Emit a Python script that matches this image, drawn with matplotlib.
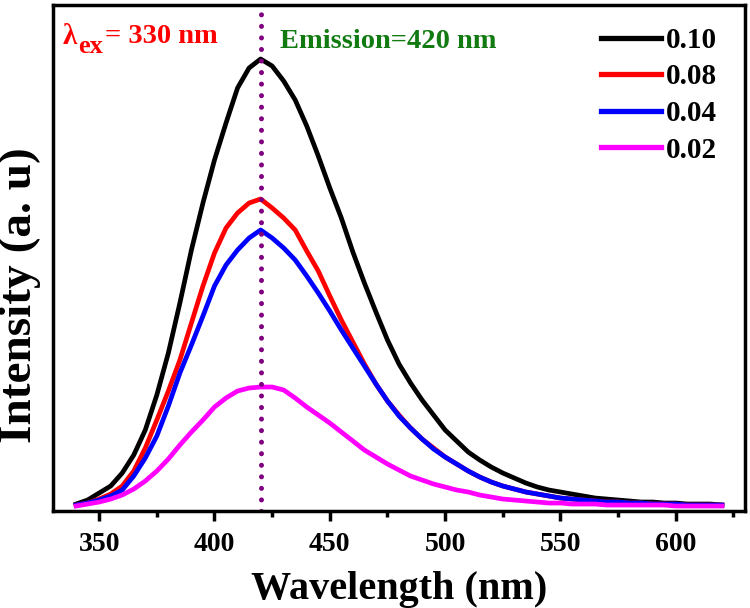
import numpy as np
import matplotlib.pyplot as plt
from matplotlib.ticker import MultipleLocator

plt.rcParams['font.family'] = ['Liberation Serif', 'DejaVu Serif']
plt.rcParams['font.weight'] = 'bold'

# wavelength grid (nm), 5 nm steps
wavelength = np.arange(340, 621, 5)

# emission intensities (arbitrary units)
i_010 = [4, 8, 15, 22, 35, 53, 78, 113, 155, 205, 258, 305, 348, 385, 420, 440, 449,
         442, 427, 408, 382, 352, 320, 290, 256, 225, 196, 168, 144, 125, 108, 93, 78,
         67, 56, 48, 41, 35, 30, 25, 21, 18, 16, 14, 12, 10, 9, 8, 7, 6, 6, 5, 5, 4, 4, 4, 3]
i_008 = [3, 5, 9, 14, 22, 37, 60, 88, 117, 148, 185, 222, 255, 280, 295, 305, 309,
         300, 290, 278, 257, 237, 212, 188, 166, 144, 124, 107, 93, 80, 69, 60, 51,
         44, 37, 31, 26, 22, 19, 16, 14, 12, 10, 9, 8, 7, 6, 6, 5, 5, 4, 4, 4, 3, 3, 3, 3]
i_004 = [3, 5, 8, 12, 18, 32, 50, 72, 102, 135, 163, 192, 222, 243, 258, 270, 278,
         270, 260, 248, 232, 215, 197, 178, 160, 142, 124, 107, 92, 80, 69, 59, 51,
         44, 37, 31, 26, 22, 19, 16, 14, 12, 10, 9, 8, 7, 6, 6, 5, 5, 4, 4, 4, 3, 3, 3, 3]
i_002 = [2, 4, 6, 9, 13, 19, 27, 37, 49, 63, 76, 88, 101, 110, 117, 120, 121,
         121, 118, 110, 101, 93, 85, 76, 67, 58, 51, 44, 38, 32, 28, 24, 21,
         18, 16, 13, 11, 9, 8, 7, 6, 5, 5, 4, 4, 4, 3, 3, 3, 3, 3, 3, 2, 2, 2, 2, 2]

labels = ['0.10', '0.08', '0.04', '0.02']
colors = ['black', 'red', 'blue', 'magenta']
series = [i_010, i_008, i_004, i_002]

fig = plt.figure(figsize=(7.5, 6.08), dpi=100)
ax = fig.add_axes([0.0707, 0.1595, 0.9226, 0.8323])

for y, lab, c in zip(series, labels, colors):
    ax.plot(wavelength, y, color=c, lw=3.4, label=lab)

ax.axvline(420, color='#7f007f', lw=3.6, linestyle=(0, (0.01, 2.3)),
           dash_capstyle='round')

ax.set_xlim(330, 630)
ax.set_ylim(-3, 503)
ax.xaxis.set_major_locator(MultipleLocator(50))
ax.xaxis.set_minor_locator(MultipleLocator(25))
ax.set_yticks([])
ax.tick_params(axis='x', which='major', length=7, width=2.5, labelsize=20, pad=8)
ax.tick_params(axis='x', which='minor', length=4, width=2.5)
for s in ax.spines.values():
    s.set_linewidth(2.5)

ax.set_xlabel('Wavelength (nm)', fontsize=29, fontweight='bold', labelpad=10)
ax.set_ylabel('Intensity (a. u)', fontsize=34, fontweight='bold')
ax.yaxis.set_label_coords(-0.017, 0.427)

# excitation label: lambda with subscript "ex"
ax.text(0.014, 0.937, 'λ', color='red', fontsize=21, fontweight='bold',
        transform=ax.transAxes, va='center')
ax.text(0.036, 0.918, 'ex', color='red', fontsize=19, fontweight='bold',
        transform=ax.transAxes, va='center')
ax.text(0.075, 0.938, '= 330 nm', color='red', fontsize=20.5, fontweight='bold',
        transform=ax.transAxes, va='center')
ax.text(0.328, 0.927, 'Emission=420 nm', color='#117a11', fontsize=20.5,
        fontweight='bold', transform=ax.transAxes, va='center')

leg = ax.legend(loc='upper right', frameon=False, fontsize=21, handlelength=2.05,
                handletextpad=0.17, labelspacing=0.33, borderaxespad=0, borderpad=0,
                bbox_to_anchor=(0.9595, 0.957))
for line in leg.get_lines():
    line.set_linewidth(3.8)

plt.savefig('out.png', dpi=100)
